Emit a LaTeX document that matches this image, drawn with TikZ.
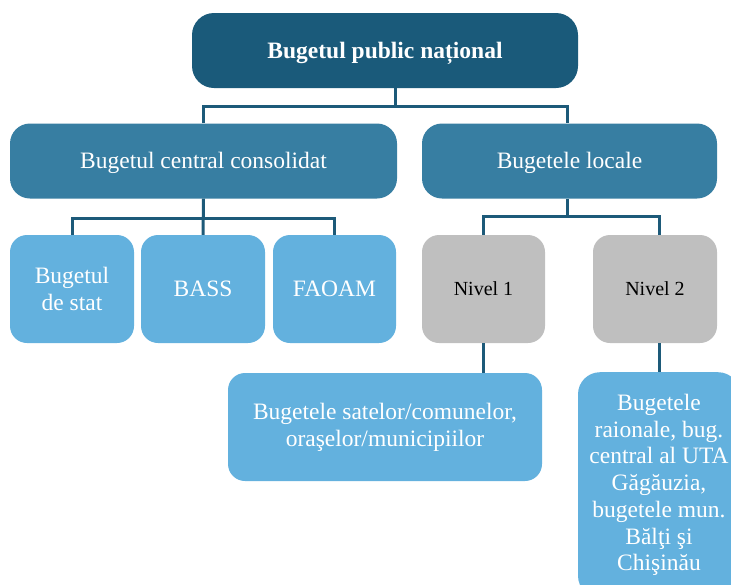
\documentclass[tikz,border=0pt]{standalone}
\usepackage{fontspec}
\setmainfont{Liberation Serif}
\definecolor{topc}{HTML}{1A5A7A}
\definecolor{midc}{HTML}{377EA2}
\definecolor{lightc}{HTML}{63B1DE}
\definecolor{greyc}{HTML}{BFBFBF}
\definecolor{linec}{HTML}{1D5A79}
\begin{document}
\begin{tikzpicture}[x=1pt,y=-1pt,
  box/.style={rounded corners=17pt, inner sep=0pt, align=center,
    font=\fontsize{23.5}{26.7}\selectfont, text=white},
  darkbox/.style={box, fill=topc, rounded corners=22pt, text depth=1pt,
    font=\bfseries\fontsize{23.5}{26.7}\selectfont},
  midbox/.style={box, fill=midc, rounded corners=20pt, text depth=1pt},
  lightbox/.style={box, fill=lightc},
  greybox/.style={box, fill=greyc, text=black, font=\fontsize{20}{24}\selectfont},
  link/.style={draw=linec, line width=3pt}]
\useasboundingbox (0,0) rectangle (731,584);
\clip (0,0) rectangle (731,584);

% level 0
\node[darkbox, minimum width=386pt, minimum height=75pt] (top) at (385,50.5)
  {Bugetul public național};

% level 1
\node[midbox, minimum width=387pt, minimum height=75pt] (cons) at (203.5,161)
  {Bugetul central consolidat};
\node[midbox, minimum width=295pt, minimum height=75pt] (loc) at (569.5,161)
  {Bugetele locale};

% level 2
\node[lightbox, minimum width=124pt, minimum height=108pt] (stat) at (72,289)
  {Bugetul\\de stat};
\node[lightbox, minimum width=124pt, minimum height=108pt] (bass) at (203,289)
  {BASS};
\node[lightbox, minimum width=123pt, minimum height=108pt] (faoam) at (334.5,289)
  {FAOAM};
\node[greybox, minimum width=123pt, minimum height=108pt] (n1) at (483.5,289)
  {Nivel 1};
\node[greybox, minimum width=124pt, minimum height=108pt] (n2) at (655,289)
  {Nivel 2};

% level 3
\node[lightbox, minimum width=314pt, minimum height=108pt] (sat) at (385,427)
  {Bugetele satelor/comunelor,\\oraşelor/municipiilor};
\node[lightbox, rounded corners=22pt, anchor=north, minimum width=162pt,
  inner ysep=22pt] (rai) at (659,372)
  {Bugetele\\raionale, bug.\\central al UTA\\Găgăuzia,\\bugetele mun.\\Bălţi şi\\Chişinău};

% junction points of the connector buses
\coordinate (j0) at (395,106);
\coordinate (j1) at (203.5,218);
\coordinate (j2) at (567,216);

% connectors
\draw[link] (top.south -| j0) -- (j0);
\draw[link] (cons.north) |- (j0) -| (loc.north -| j2);
\draw[link] (cons.south) -- (bass.north);
\draw[link] (stat.north) |- (j1) -| (faoam.north);
\draw[link] (loc.south -| j2) -- (j2);
\draw[link] (n1.north) |- (j2) -| (rai.north |- n2.north);
\draw[link] (n1.south) -- (n1.south |- sat.north);
\draw[link] (rai.north |- n2.south) -- (rai.north);
\end{tikzpicture}
\end{document}
